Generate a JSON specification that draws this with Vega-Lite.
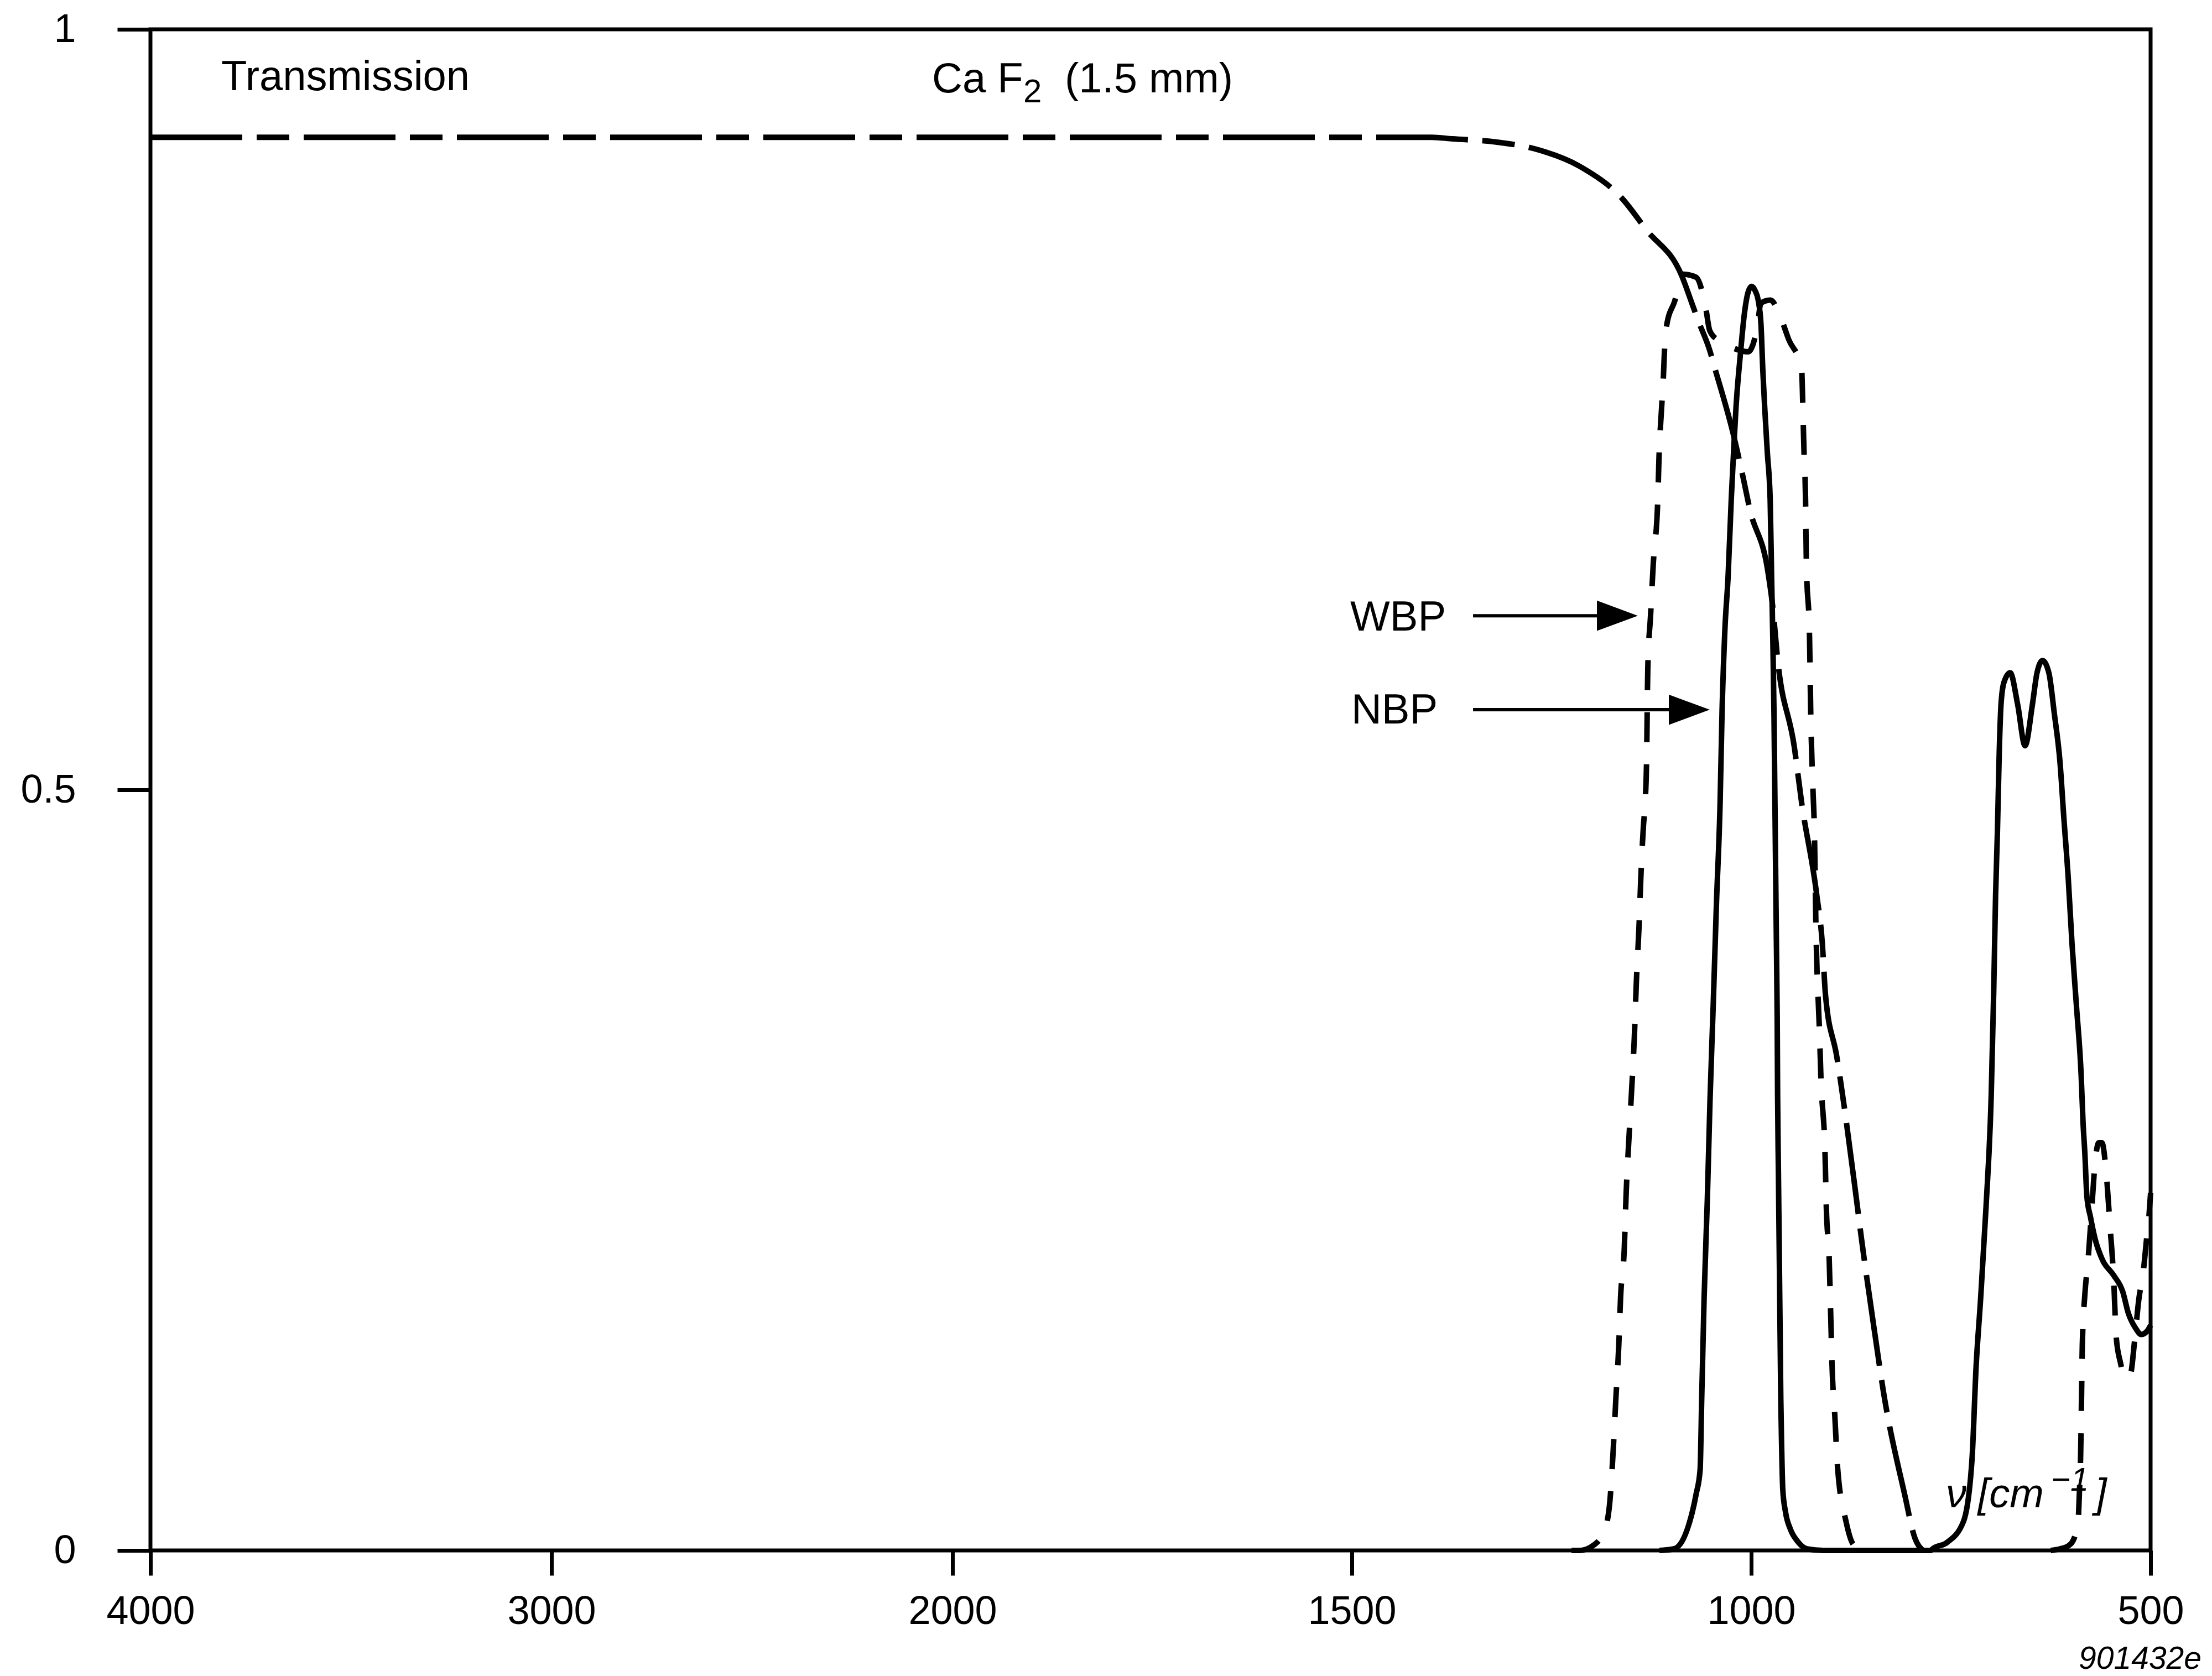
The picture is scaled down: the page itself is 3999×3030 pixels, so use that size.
{
  "$schema": "https://vega.github.io/schema/vega-lite/v6.json",
  "width": 3616,
  "height": 2750,
  "autosize": {"type": "none"},
  "padding": {"left": 272, "top": 53, "right": 111, "bottom": 227},
  "background": "white",
  "config": {
    "view": {"stroke": "black", "strokeWidth": 7},
    "axis": {
      "domain": false, "grid": false, "title": null,
      "tickColor": "black", "tickWidth": 7,
      "labelColor": "black", "labelFont": "Liberation Sans", "labelFontSize": 72,
      "labelFlush": false, "labelOverlap": false, "labelBound": false
    }
  },
  "datasets": {
    "caf2": [
      {"wn": 4000, "T": 0.929}, {"wn": 3000, "T": 0.929}, {"wn": 2000, "T": 0.929}, {"wn": 1500, "T": 0.929},
      {"wn": 1400, "T": 0.929}, {"wn": 1374, "T": 0.928}, {"wn": 1321, "T": 0.926}, {"wn": 1268, "T": 0.921},
      {"wn": 1215, "T": 0.910}, {"wn": 1162, "T": 0.889}, {"wn": 1131, "T": 0.868}, {"wn": 1087, "T": 0.838},
      {"wn": 1073, "T": 0.818}, {"wn": 1066, "T": 0.808}, {"wn": 1052, "T": 0.789}, {"wn": 1046, "T": 0.778},
      {"wn": 1023, "T": 0.735}, {"wn": 1010, "T": 0.705}, {"wn": 1002, "T": 0.685}, {"wn": 979, "T": 0.643},
      {"wn": 973, "T": 0.62}, {"wn": 967, "T": 0.586}, {"wn": 946, "T": 0.528}, {"wn": 937, "T": 0.492},
      {"wn": 918, "T": 0.431}, {"wn": 911, "T": 0.399}, {"wn": 907, "T": 0.365}, {"wn": 893, "T": 0.325},
      {"wn": 870, "T": 0.238}, {"wn": 862, "T": 0.205}, {"wn": 844, "T": 0.138}, {"wn": 835, "T": 0.106},
      {"wn": 808, "T": 0.037}, {"wn": 795, "T": 0.008}, {"wn": 785, "T": 0.0}
    ],
    "nbp": [
      {"wn": 1115, "T": 0.0}, {"wn": 1097, "T": 0.001}, {"wn": 1080, "T": 0.014}, {"wn": 1069, "T": 0.037},
      {"wn": 1064, "T": 0.053}, {"wn": 1062, "T": 0.1}, {"wn": 1059, "T": 0.166}, {"wn": 1055, "T": 0.23},
      {"wn": 1051.6, "T": 0.296}, {"wn": 1047.5, "T": 0.36}, {"wn": 1043.5, "T": 0.426}, {"wn": 1039, "T": 0.491},
      {"wn": 1036.5, "T": 0.552}, {"wn": 1033, "T": 0.605}, {"wn": 1029, "T": 0.64}, {"wn": 1025, "T": 0.691},
      {"wn": 1021.6, "T": 0.7275}, {"wn": 1019, "T": 0.752}, {"wn": 1013.3, "T": 0.788}, {"wn": 1008.7, "T": 0.8125},
      {"wn": 1004, "T": 0.827}, {"wn": 999.5, "T": 0.831}, {"wn": 995, "T": 0.828}, {"wn": 991.3, "T": 0.822},
      {"wn": 987.8, "T": 0.806}, {"wn": 985.5, "T": 0.776}, {"wn": 983.2, "T": 0.752}, {"wn": 979.8, "T": 0.7215},
      {"wn": 976.3, "T": 0.691}, {"wn": 974.5, "T": 0.64}, {"wn": 973, "T": 0.6}, {"wn": 971.5, "T": 0.55},
      {"wn": 970.5, "T": 0.5}, {"wn": 969.5, "T": 0.45}, {"wn": 968.5, "T": 0.4}, {"wn": 967.5, "T": 0.35},
      {"wn": 967, "T": 0.3}, {"wn": 966, "T": 0.25}, {"wn": 965, "T": 0.2}, {"wn": 964, "T": 0.15},
      {"wn": 963, "T": 0.1}, {"wn": 962, "T": 0.07}, {"wn": 960.5, "T": 0.04}, {"wn": 957, "T": 0.025},
      {"wn": 951, "T": 0.014}, {"wn": 942, "T": 0.006}, {"wn": 930, "T": 0.001}, {"wn": 910, "T": 0.0},
      {"wn": 775, "T": 0.0}, {"wn": 773, "T": 0.001}, {"wn": 755.5, "T": 0.005}, {"wn": 734.3, "T": 0.019},
      {"wn": 723.7, "T": 0.059}, {"wn": 718.4, "T": 0.1215}, {"wn": 713, "T": 0.164}, {"wn": 706, "T": 0.226},
      {"wn": 699.5, "T": 0.3}, {"wn": 696.4, "T": 0.368}, {"wn": 694.1, "T": 0.43}, {"wn": 691.8, "T": 0.472},
      {"wn": 689.5, "T": 0.5245}, {"wn": 687.3, "T": 0.556}, {"wn": 683.7, "T": 0.5705}, {"wn": 675.8, "T": 0.577},
      {"wn": 666.4, "T": 0.556}, {"wn": 657.2, "T": 0.529}, {"wn": 648, "T": 0.556}, {"wn": 642.2, "T": 0.577},
      {"wn": 635.3, "T": 0.585}, {"wn": 627.4, "T": 0.577}, {"wn": 620.5, "T": 0.55}, {"wn": 613.4, "T": 0.518},
      {"wn": 608.8, "T": 0.483}, {"wn": 603, "T": 0.441}, {"wn": 598.4, "T": 0.399}, {"wn": 592.7, "T": 0.357},
      {"wn": 586.9, "T": 0.312}, {"wn": 584.6, "T": 0.2815}, {"wn": 582.3, "T": 0.261}, {"wn": 579.8, "T": 0.233},
      {"wn": 575.2, "T": 0.219}, {"wn": 569.6, "T": 0.205}, {"wn": 560.3, "T": 0.191}, {"wn": 546.4, "T": 0.181},
      {"wn": 534.8, "T": 0.17}, {"wn": 527.9, "T": 0.156}, {"wn": 518.7, "T": 0.146}, {"wn": 511.8, "T": 0.142},
      {"wn": 504.7, "T": 0.144}, {"wn": 500, "T": 0.148}
    ],
    "wbp1": [
      {"wn": 1225, "T": 0.0}, {"wn": 1214.6, "T": 0.0}, {"wn": 1200.4, "T": 0.0024}, {"wn": 1184.5, "T": 0.0122},
      {"wn": 1177.4, "T": 0.03}, {"wn": 1172.8, "T": 0.066}, {"wn": 1169.3, "T": 0.1016}, {"wn": 1165.9, "T": 0.134},
      {"wn": 1163.6, "T": 0.166}, {"wn": 1158.9, "T": 0.199}, {"wn": 1156.6, "T": 0.2347}, {"wn": 1153.2, "T": 0.27},
      {"wn": 1149.7, "T": 0.303}, {"wn": 1146.3, "T": 0.338}, {"wn": 1143.8, "T": 0.374}, {"wn": 1140.5, "T": 0.41},
      {"wn": 1138.2, "T": 0.4425}, {"wn": 1135, "T": 0.476}, {"wn": 1133, "T": 0.49}, {"wn": 1131, "T": 0.52},
      {"wn": 1129.5, "T": 0.58}, {"wn": 1126, "T": 0.615}, {"wn": 1122.6, "T": 0.649}, {"wn": 1117, "T": 0.691},
      {"wn": 1115.5, "T": 0.718}, {"wn": 1112, "T": 0.753}, {"wn": 1110, "T": 0.771}, {"wn": 1108.6, "T": 0.789},
      {"wn": 1106, "T": 0.805}, {"wn": 1096, "T": 0.821}, {"wn": 1085, "T": 0.839}, {"wn": 1069, "T": 0.837},
      {"wn": 1057, "T": 0.817}, {"wn": 1052, "T": 0.802}, {"wn": 1041.5, "T": 0.7955}, {"wn": 1025, "T": 0.791},
      {"wn": 1004, "T": 0.788}, {"wn": 992, "T": 0.806}, {"wn": 988, "T": 0.82}, {"wn": 976, "T": 0.822},
      {"wn": 962, "T": 0.809}, {"wn": 953, "T": 0.796}, {"wn": 937, "T": 0.778}, {"wn": 936, "T": 0.764},
      {"wn": 935, "T": 0.7435}, {"wn": 934, "T": 0.7236}, {"wn": 932, "T": 0.691}, {"wn": 931, "T": 0.65},
      {"wn": 927, "T": 0.6}, {"wn": 925.5, "T": 0.55}, {"wn": 922.7, "T": 0.5}, {"wn": 921, "T": 0.475},
      {"wn": 919, "T": 0.41}, {"wn": 914.5, "T": 0.34}, {"wn": 912.7, "T": 0.31}, {"wn": 907.5, "T": 0.259},
      {"wn": 906, "T": 0.226}, {"wn": 902.3, "T": 0.19}, {"wn": 900.6, "T": 0.157}, {"wn": 898.8, "T": 0.1215},
      {"wn": 895.3, "T": 0.088}, {"wn": 891.8, "T": 0.054}, {"wn": 881.3, "T": 0.019}, {"wn": 872.3, "T": 0.004},
      {"wn": 860, "T": 0.0}
    ],
    "wbp2": [
      {"wn": 625, "T": 0.0}, {"wn": 613.8, "T": 0.001}, {"wn": 603, "T": 0.003}, {"wn": 595, "T": 0.009},
      {"wn": 591, "T": 0.017}, {"wn": 589, "T": 0.04}, {"wn": 587.5, "T": 0.065}, {"wn": 586.5, "T": 0.1},
      {"wn": 585.5, "T": 0.135}, {"wn": 582.2, "T": 0.169}, {"wn": 578.6, "T": 0.189}, {"wn": 574, "T": 0.222},
      {"wn": 570, "T": 0.252}, {"wn": 565, "T": 0.268}, {"wn": 561, "T": 0.268}, {"wn": 555.5, "T": 0.248},
      {"wn": 550.9, "T": 0.214}, {"wn": 546.3, "T": 0.179}, {"wn": 543, "T": 0.14}, {"wn": 538, "T": 0.124},
      {"wn": 533, "T": 0.115}, {"wn": 529, "T": 0.113}, {"wn": 525, "T": 0.116}, {"wn": 520, "T": 0.138},
      {"wn": 515, "T": 0.164}, {"wn": 509, "T": 0.184}, {"wn": 505, "T": 0.205}, {"wn": 502, "T": 0.22},
      {"wn": 500, "T": 0.235}
    ],
    "labels": [
      {"wn": 3823.4, "T": 0.96, "text": "Transmission"},
      {"wn": 2051, "T": 0.9585, "text": "Ca F"},
      {"wn": 1859.4, "T": 0.9585, "text": "(1.5 mm)"},
      {"wn": 1502.1, "T": 0.6047, "text": "WBP"},
      {"wn": 1500.7, "T": 0.5436, "text": "NBP"}
    ],
    "sub": [{"wn": 1911.4, "T": 0.952, "text": "2"}],
    "nu": [
      {"wn": 756.2, "T": 0.0284, "text": "ν [cm"},
      {"wn": 569.3, "T": 0.0284, "text": "]"}
    ],
    "sup": [{"wn": 624.7, "T": 0.0393, "text": "−1"}],
    "code": [{"wn": 436.3, "T": -0.0778, "text": "901432e"}],
    "arrows": [
      {"wn": 1348.3, "wn2": 1150, "T": 0.6145},
      {"wn": 1348.3, "wn2": 1062, "T": 0.5527}
    ],
    "heads": [
      {"wn": 1141.96, "T": 0.6145},
      {"wn": 1051.96, "T": 0.5527}
    ]
  },
  "encoding": {
    "x": {
      "field": "wn", "type": "quantitative",
      "scale": {"type": "linear", "domain": [4000, 2000, 500], "range": [0, 1450, 3616], "nice": false, "zero": false},
      "axis": {"values": [4000, 3000, 2000, 1500, 1000, 500], "format": "d", "tickSize": 45, "labelPadding": 30}
    },
    "y": {
      "field": "T", "type": "quantitative",
      "scale": {"domain": [0, 1], "nice": false, "zero": false},
      "axis": {"values": [0, 0.5, 1], "format": ".1~f", "tickSize": 60, "labelPadding": 75}
    }
  },
  "layer": [
    {
      "data": {"name": "caf2"},
      "mark": {"type": "line", "color": "black", "strokeWidth": 10, "strokeDash": [166, 26, 59, 26], "interpolate": "monotone"},
      "encoding": {"order": {"field": "wn", "type": "quantitative", "sort": "descending"}}
    },
    {
      "data": {"name": "wbp1"},
      "mark": {"type": "line", "color": "black", "strokeWidth": 10, "strokeDash": [54, 40], "interpolate": "monotone"},
      "encoding": {"order": {"field": "wn", "type": "quantitative", "sort": "descending"}}
    },
    {
      "data": {"name": "wbp2"},
      "mark": {"type": "line", "color": "black", "strokeWidth": 10, "strokeDash": [54, 40], "interpolate": "monotone"},
      "encoding": {"order": {"field": "wn", "type": "quantitative", "sort": "descending"}}
    },
    {
      "data": {"name": "nbp"},
      "mark": {"type": "line", "color": "black", "strokeWidth": 10, "interpolate": "monotone"},
      "encoding": {"order": {"field": "wn", "type": "quantitative", "sort": "descending"}}
    },
    {
      "data": {"name": "arrows"},
      "mark": {"type": "rule", "color": "black", "strokeWidth": 6},
      "encoding": {"x2": {"field": "wn2"}}
    },
    {
      "data": {"name": "heads"},
      "mark": {"type": "point", "shape": "M-2,-0.74L0,0L-2,0.74Z", "size": 5476, "filled": true, "color": "black", "opacity": 1, "strokeWidth": 0}
    },
    {
      "data": {"name": "labels"},
      "mark": {"type": "text", "font": "Liberation Sans", "fontSize": 76, "align": "left", "baseline": "alphabetic", "color": "black"},
      "encoding": {"text": {"field": "text"}}
    },
    {
      "data": {"name": "sub"},
      "mark": {"type": "text", "font": "Liberation Sans", "fontSize": 60, "align": "left", "baseline": "alphabetic", "color": "black"},
      "encoding": {"text": {"field": "text"}}
    },
    {
      "data": {"name": "nu"},
      "mark": {"type": "text", "font": "Liberation Sans", "fontStyle": "italic", "fontSize": 74, "align": "left", "baseline": "alphabetic", "color": "black"},
      "encoding": {"text": {"field": "text"}}
    },
    {
      "data": {"name": "sup"},
      "mark": {"type": "text", "font": "Liberation Sans", "fontStyle": "italic", "fontSize": 60, "align": "left", "baseline": "alphabetic", "color": "black"},
      "encoding": {"text": {"field": "text"}}
    },
    {
      "data": {"name": "code"},
      "mark": {"type": "text", "font": "Liberation Sans", "fontStyle": "italic", "fontSize": 57, "align": "right", "baseline": "alphabetic", "color": "black"},
      "encoding": {"text": {"field": "text"}}
    }
  ]
}
